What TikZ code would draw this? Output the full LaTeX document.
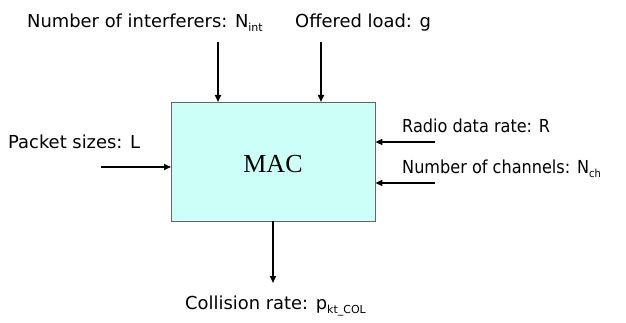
\documentclass[tikz,border=0pt]{standalone}
\usepackage{fontspec}
\setmainfont{DejaVu Sans}
\newfontfamily\macfont{Liberation Serif}
\usetikzlibrary{arrows.meta}
\newcommand{\sbs}[1]{\raisebox{-4pt}{\fontsize{11}{11}\selectfont #1}}
\newcommand{\narrowtxt}[1]{\scalebox{0.9}[1]{#1}}
\begin{document}
\begin{tikzpicture}[x=1pt,y=-1pt,
  lbl/.style={inner sep=0pt,anchor=base west,font=\fontsize{17.9}{20}\selectfont},
  arr/.style={line width=1.6pt,-{Triangle[length=7pt,width=6pt]}}]
\useasboundingbox (0,0) rectangle (626,323);
\node[draw=black!60,fill={rgb,255:red,204;green,255;blue,248},minimum width=204pt,minimum height=119pt,inner sep=0pt,anchor=north west] (mac) at (171,102) {};
\node[font=\macfont\fontsize{26}{28}\selectfont,inner sep=0pt,anchor=base] (mact) at (273,173) {MAC};
\node[lbl] (nint) at (27,28) {Number of interferers: N\sbs{int}};
\node[lbl] (load) at (295,28) {Offered load: g};
\node[lbl] (rate) at (402,133) {\narrowtxt{Radio data rate: R}};
\node[lbl] (nch) at (402,174) {\narrowtxt{Number of channels: N\sbs{ch}}};
\node[lbl] (pkt) at (8,149) {Packet sizes: L};
\node[lbl] (col) at (185,309) {Collision rate: p\sbs{kt\_COL}};
\coordinate (a1) at (218,42);
\coordinate (a2) at (321,42);
\coordinate (a3) at (435,142);
\coordinate (a4) at (435,183);
\coordinate (a5) at (101,167);
\coordinate (a6) at (273,283);
\draw[arr] (a1) -- (a1 |- mac.north);
\draw[arr] (a2) -- (a2 |- mac.north);
\draw[arr] (a3) -- (a3 -| mac.east);
\draw[arr] (a4) -- (a4 -| mac.east);
\draw[arr] (a5) -- (a5 -| mac.west);
\draw[arr] (a6 |- mac.south) -- (a6);
\end{tikzpicture}
\end{document}
